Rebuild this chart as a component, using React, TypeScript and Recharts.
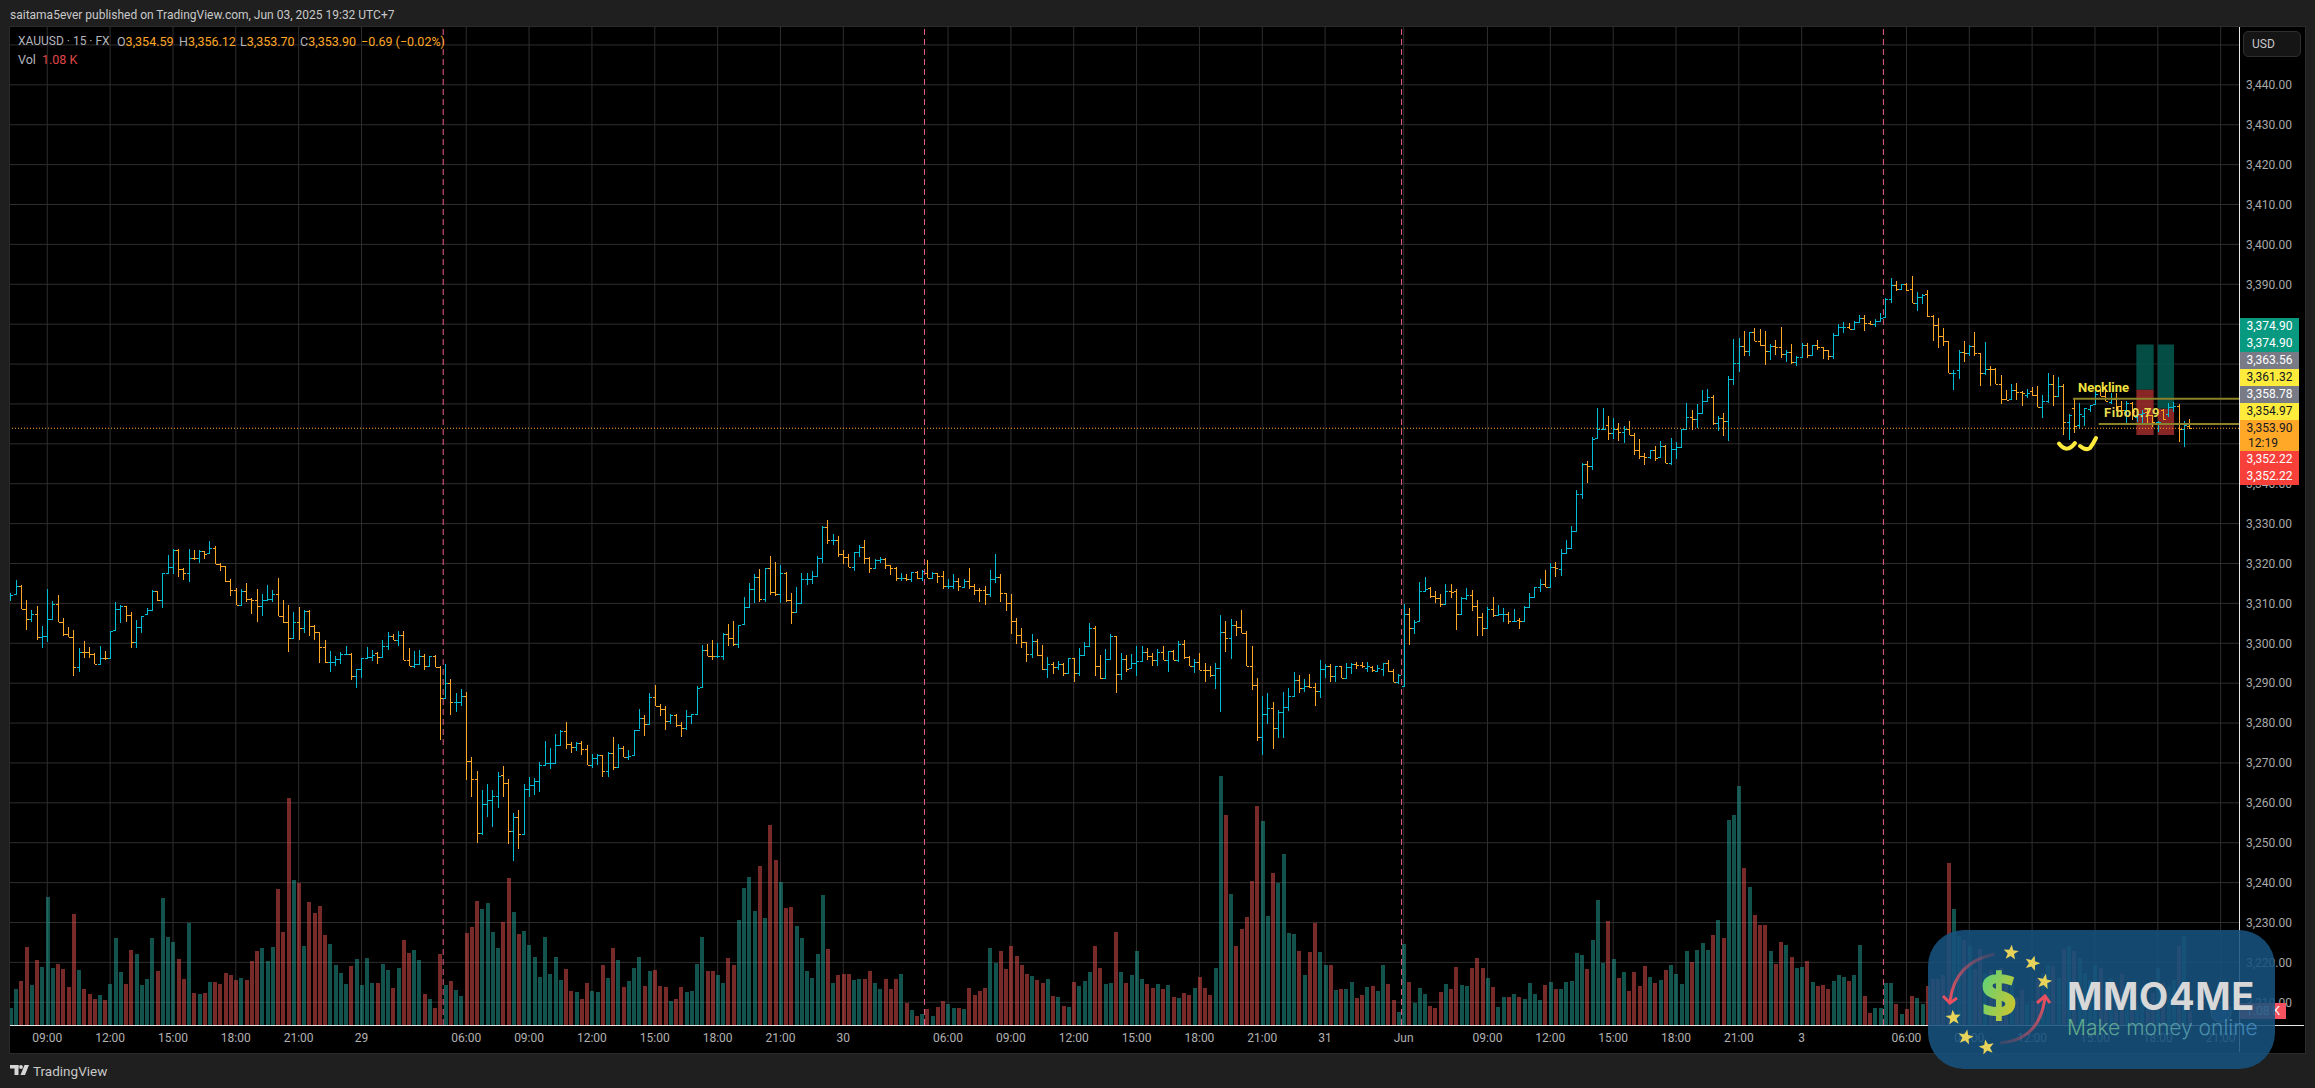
import { ComposedChart, Bar, XAxis, YAxis, CartesianGrid, ReferenceLine, ReferenceArea } from 'recharts';

const FONT = 'Roboto, "Liberation Sans", sans-serif';
const UP = '#00bcd4';
const DOWN = '#ffa726';

// one line per 10 bars
const opens = [
  3311.25,3312.25,3314.25,3308.5,3306.2,3307.25,3301.5,3301.75,3306.2,3309.75,
  3305.4,3302.4,3301.5,3294,3297.9,3297.75,3297.25,3294.9,3296.25,3296.25,
  3303.25,3308.5,3309.25,3307.1,3300.2,3304.2,3307.4,3308.3,3313.2,3310.75,
  3317.5,3319,3323.5,3318.5,3317.5,3321.5,3321.4,3323.25,3322.75,3324,
  3319.75,3319.3,3315.7,3313.25,3309.7,3313,3311.2,3310.9,3309.25,3310.8,
  3311.2,3312.25,3306.9,3305.4,3301.4,3305.25,3303.9,3308.2,3304.25,3302.75,
  3299,3295.2,3295.4,3296,3297.25,3297.25,3291.75,3293.5,3296.2,3296.6,
  3297.5,3296.6,3299.4,3301.7,3300.75,3302,3295.7,3294.25,3294.7,3296.8,
  3294.3,3296.7,3294,3286.4,3290,3285.25,3285.3,3286.75,3270.6,3266,
  3252.5,3259.75,3260.75,3261.6,3266.9,3265,3253,3256.5,3252.25,3263.5,
  3264.5,3265.5,3269.5,3270,3270,3274.4,3278,3274.75,3274,3275,
  3273.5,3269.5,3271.25,3272.1,3268,3272.5,3268.9,3273.75,3271.5,3271.9,
  3278.3,3281.25,3279.75,3286.5,3284.2,3283.5,3280.4,3282,3279.4,3278.75,
  3281.8,3282.25,3289,3298.3,3296.9,3296.7,3296.8,3302.25,3301.3,3299.75,
  3304.75,3309,3313.5,3316.5,3311,3318.9,3312.75,3312.3,3317.5,3310.75,
  3307.9,3310.2,3316,3316.2,3316.9,3321.5,3329.2,3326,3326,3322.3,
  3321.7,3319,3322.9,3324.2,3321.5,3318.9,3321,3321.2,3319.5,3318.9,
  3316.25,3316.4,3316.2,3317.75,3316.3,3317.5,3316.4,3317.6,3316.75,3314.4,
  3314.4,3315.6,3314.2,3315.6,3314.4,3313.3,3313.25,3312.3,3316,3316.5,
  3312.5,3310,3305.5,3302,3300.2,3297.25,3300.5,3297,3293.6,3294.75,
  3294,3294.8,3292.5,3296.25,3292.5,3297,3299.3,3303.8,3294.3,3291.2,
  3296,3301.9,3292.25,3296,3293.9,3295,3295.5,3297.75,3296.9,3295.8,
  3297.75,3295.8,3298,3295.7,3299.75,3296.5,3294.4,3295.25,3293.4,3293.25,
  3292,3293.9,3302.75,3301.25,3304.5,3304,3302.7,3294.4,3289.6,3276.5,
  3282.25,3283.75,3278.7,3282.8,3284,3286.9,3290.7,3288.75,3289.4,3289,
  3288,3293.5,3294.3,3291.75,3294.2,3291.2,3294,3294.75,3294.5,3293.75,
  3294,3293.1,3293.6,3295,3293,3290.4,3289.3,3307.4,3303.75,3305.7,
  3313,3313.8,3311.9,3311.25,3309.8,3313,3313,3307.4,3311.25,3312.2,
  3309.25,3306.5,3303.75,3308.5,3307,3307.25,3307.4,3305.5,3305.8,3305.5,
  3309.2,3311.7,3314,3314.75,3314,3319,3318.6,3322.7,3324,3328.2,
  3337.5,3345,3344.4,3351.5,3353.6,3354.6,3352.7,3353.8,3353,3353.8,
  3352.3,3348.5,3346.9,3346.75,3348.4,3346.75,3349.4,3345.25,3348.75,3349.2,
  3353.6,3356.75,3356.25,3357.7,3360.7,3361.75,3355.25,3356.6,3355.75,3366.25,
  3370.25,3374.6,3373.25,3378,3375.9,3374.75,3373.25,3374.6,3374.25,3372.4,
  3373,3370.4,3371.75,3374.75,3372.3,3374.7,3374.25,3373.6,3371.9,3377.3,
  3379.2,3379.4,3378.9,3380.6,3381.6,3380.25,3380,3380.7,3381.7,3386.25,
  3389.8,3388.8,3390,3388.75,3385.4,3386.75,3387.5,3382.1,3379.75,3377.1,
  3375.9,3367.7,3368.6,3373,3372.75,3374.6,3372.75,3367.75,3368.75,3368.75,
  3365,3361.25,3361.25,3363.6,3363,3362.3,3363.2,3362.3,3359.25,3360.7,
  3365,3362.1,3364.4,3355.5,3359,3354.6,3357,3358.75,3360,3363.6,
  3361.9,3360.4,3361.25,3359.6,3358.6,3360.25,3356.75,3357.5,3357.9,3357.3,
  3355.4,3358.6,3357.5,3359.25,3359.6,3353.6,3354.59,
];

const highs = [
  3312.5,3315.8,3314.5,3310.8,3308.3,3309.3,3304.3,3313.6,3310.6,3312,
  3306.3,3304,3303.3,3298.8,3300.6,3299,3297.5,3299.3,3298,3303.1,
  3310.25,3309.6,3309.25,3307.75,3305.8,3306.75,3308.8,3313.25,3313.2,3317.5,
  3322.25,3323.75,3323.75,3318.8,3323.6,3323.3,3323.5,3323.25,3325.6,3324.3,
  3320,3319.4,3316,3313.75,3313.6,3315,3311.25,3313.6,3312.25,3314.5,
  3313.3,3316.25,3310.8,3309.6,3307.75,3309,3308.3,3308.25,3304.5,3302.8,
  3300.75,3298,3296.9,3297.8,3299.3,3297.5,3293.6,3296.3,3299,3298.3,
  3297.7,3300.75,3302.8,3302.25,3303.1,3303.1,3298.8,3298,3298.3,3297.25,
  3296.8,3297.1,3294.4,3294.75,3291.1,3287.6,3288.6,3287.75,3271.5,3268,
  3263.3,3264.75,3263.25,3267.8,3269.3,3266,3257.5,3258.3,3264.6,3266.5,
  3266.25,3270.25,3275.6,3273.75,3277.25,3278.3,3280.25,3275.3,3275.3,3275.4,
  3274.6,3272.25,3272.3,3272.1,3272.75,3276.5,3274.75,3274.2,3273.3,3278.3,
  3283.6,3282.1,3287.5,3289.5,3284.75,3284.3,3282.25,3282.25,3280.25,3283.3,
  3282.25,3289.3,3299.6,3299.7,3300.8,3300,3302.5,3304.75,3305.5,3304.6,
  3311.5,3315,3317.3,3318.5,3318.9,3322,3320.3,3319.6,3317.75,3312.5,
  3314,3317.5,3317.5,3318.1,3321.9,3329.5,3331,3327.3,3326.8,3323.3,
  3322.3,3322.9,3324.6,3325.8,3321.7,3321.25,3321.7,3321.4,3319.6,3319.2,
  3317.5,3317.25,3317.8,3318,3318.3,3320.8,3317.75,3317.7,3318,3316,
  3317.3,3316.3,3316,3318.75,3314.75,3313.75,3314.3,3318.3,3322.5,3317.3,
  3312.5,3312.25,3306.3,3303.75,3300.4,3302.3,3301,3299.6,3296.5,3295.25,
  3295.6,3295,3296.25,3296.25,3298.75,3300.25,3305,3304.25,3297.1,3298.6,
  3302.25,3301.9,3297.5,3297.1,3297.25,3299.3,3299.3,3298.9,3297.5,3298.5,
  3299.3,3298,3298.3,3300.5,3300.8,3296.7,3296,3297.5,3295,3294.2,
  3295,3307,3305.6,3306,3305.5,3308.25,3303.1,3299.3,3291.25,3286.8,
  3287.5,3285.3,3283.2,3287.8,3288.9,3292.8,3292,3291,3292.3,3290,
  3295.8,3294.8,3294.8,3294.4,3294.2,3295,3295,3295.25,3295.2,3295.25,
  3294.2,3294.6,3295,3295.8,3293.6,3292.3,3309.8,3308.9,3305.8,3315.25,
  3316.5,3314,3313,3312.25,3314.8,3314.8,3313.6,3311.5,3313.8,3313.3,
  3310.8,3307.7,3309,3311.5,3309.6,3308.8,3307.9,3308.6,3306.25,3309.4,
  3312.5,3314,3316,3318.3,3320,3320.25,3323.6,3326,3329.5,3338.3,
  3345.25,3345.6,3351.7,3359,3359,3357.1,3356.5,3355.1,3354.4,3355.8,
  3352.75,3351.3,3347.75,3348.4,3349.4,3350.7,3349.7,3351.5,3350.4,3353.6,
  3360.25,3358.6,3360,3363.6,3363.75,3362.25,3356.9,3357.75,3367,3376.3,
  3376.5,3378.2,3378.1,3379,3378.75,3378.4,3375.1,3376.1,3379.25,3373.6,
  3375.1,3371.9,3375.4,3375.4,3374.75,3376.1,3374.4,3373.6,3377.75,3380,
  3380.5,3380.25,3380.8,3382.3,3382.2,3380.8,3381.25,3382.75,3386.5,3391.5,
  3390.9,3390.1,3390.4,3392.1,3388,3387.6,3388.6,3382.3,3381.5,3379,
  3375.9,3368.4,3373.6,3375.8,3374.7,3378.1,3372.75,3375.6,3369.6,3369,
  3367.3,3363.6,3365,3365.25,3363.2,3363.75,3364.25,3364.4,3362.3,3367.75,
  3367.3,3366.75,3365,3357.6,3361.5,3360.25,3359,3359.8,3364.8,3364,
  3363.2,3362.75,3362.75,3360.7,3360.8,3360.5,3358.2,3358.4,3359,3357.3,
  3355.6,3358.75,3360.25,3360.5,3360,3355.8,3356.12,
];

const lows = [
  3310.7,3312,3308.5,3303.3,3305.4,3300.7,3298.7,3300.4,3306.2,3305.25,
  3301.9,3301.5,3291.7,3292.7,3296.4,3296.2,3294.75,3294.7,3295.7,3296,
  3303.25,3305.2,3305.4,3298.7,3298.9,3302.7,3307.4,3308.3,3310.7,3308.9,
  3317.5,3317.4,3316.5,3315.8,3315.4,3320.8,3320.2,3321.2,3322.75,3319.75,
  3318.2,3315.25,3311.9,3309.7,3309.7,3310.4,3307.3,3305.4,3306.8,3310.8,
  3310.4,3306.9,3305,3297.7,3301.25,3300.8,3302.7,3301.7,3300.7,3295.1,
  3295,3292.7,3294.2,3294.75,3297,3290.8,3288.9,3291.4,3296.2,3295.6,
  3294.7,3296.6,3298.4,3300.7,3299.4,3295.7,3294.2,3293.9,3294.7,3293.2,
  3294.2,3294,3275.8,3286.4,3281.9,3282.7,3284.2,3265.6,3261.4,3250,
  3252,3256.4,3253.9,3258.7,3261.4,3249.75,3245.4,3248.3,3252.25,3261.4,
  3261.9,3262.7,3269.2,3268.5,3270,3274.2,3273.5,3272.5,3272.9,3272.1,
  3269.4,3268.75,3269.4,3266.4,3266.4,3268.2,3268.7,3271.5,3270.7,3271.9,
  3278.6,3276.8,3279.4,3284.2,3281.7,3278.3,3279.8,3279,3276.4,3278.3,
  3279.8,3282.1,3289,3296.7,3295.7,3296.2,3295.7,3299.2,3299.4,3298.75,
  3304.75,3309,3310,3310.4,3310.4,3312,3311.9,3310.2,3310.4,3304.8,
  3307.9,3309.8,3314.6,3314.8,3316.8,3320,3324.8,3324.6,3321.7,3319.8,
  3319,3318.2,3321.7,3319.8,3317.7,3318.5,3320.2,3318.7,3317.1,3315.6,
  3315.6,3315.7,3315.3,3316.1,3315.7,3316.25,3316.4,3315,3313.7,3313.5,
  3313.5,3313.2,3313.9,3313.7,3312,3310.4,3309.6,3311.7,3315,3310.4,
  3308.2,3302.3,3299.7,3298.7,3295.2,3296.4,3296.7,3293.3,3291.4,3292.3,
  3293.3,3291.7,3292.4,3290.3,3291.7,3296.8,3299.2,3291.7,3291,3291.2,
  3296,3287.5,3290.7,3292.7,3293.75,3291.8,3295.3,3295.8,3294.3,3294.2,
  3295.7,3292.7,3295.7,3295.25,3296,3294.2,3292.5,3293.2,3290.2,3291.5,
  3288.6,3282.7,3297.7,3296.1,3301.7,3302.5,3294.4,3288.2,3275.4,3271.9,
  3279.8,3273.6,3276.3,3276.2,3282.9,3286.8,3287.5,3287.7,3288.75,3284.2,
  3286.2,3291.4,3290.2,3290.4,3291.2,3291.2,3292.3,3293.6,3293.9,3292.9,
  3292.7,3292.75,3291.8,3292.8,3290.4,3289.8,3289.2,3299.6,3302.3,3305.7,
  3312.9,3311.25,3310.2,3309.2,3309.6,3311.4,3303.3,3307.2,3310.8,3308.2,
  3301.7,3301.7,3303.75,3306.5,3306.8,3305.4,3304.9,3305.4,3303.6,3305.4,
  3309.2,3311.5,3312.9,3314,3314,3316.7,3316.9,3322.7,3324,3328,
  3336.25,3340.25,3343.4,3351.5,3353.8,3350.9,3351.1,3350.6,3350.3,3352.2,
  3347.3,3346.3,3344.7,3346.1,3345.7,3346.5,3345.25,3344.6,3346.1,3349,
  3353.75,3353.4,3354,3357.5,3360.7,3354.75,3353.2,3352,3350.7,3364.8,
  3367.9,3372.1,3372.1,3375.9,3374.6,3369.8,3371.1,3372.3,3371.5,3370.4,
  3370.1,3369.4,3371.7,3371.5,3372.3,3373.6,3371.3,3370.9,3371.3,3377.1,
  3377.9,3378.75,3378.75,3380.5,3378.4,3379.8,3379.2,3380.5,3381.7,3385.4,
  3388.4,3388.6,3388.25,3385.25,3383.2,3385,3381.9,3375.7,3374,3374.6,
  3367.75,3363.4,3366.3,3370.4,3371.9,3371.9,3364.4,3367.3,3364.4,3365,
  3359.9,3360.9,3361.25,3361.1,3359.4,3361.5,3362.1,3359.25,3356.5,3360.25,
  3359.4,3361.9,3352.1,3350.9,3352.75,3353.75,3354.4,3357.9,3360,3361.9,
  3360.7,3360.1,3358.2,3357.3,3355.25,3356,3355.4,3355.25,3354.8,3354.25,
  3353,3356,3356.7,3357.9,3350.4,3349.2,3353.7,
];

const closes = [
  3312,3314.25,3308.5,3306.2,3307.25,3301.5,3301.75,3306.2,3309.75,3305.4,
  3302.4,3301.5,3294,3297.9,3297.75,3297.25,3294.9,3296.25,3296.2,3303,
  3308.5,3309.25,3307.1,3300.2,3304.2,3306.75,3308.3,3313.2,3310.75,3317.5,
  3319,3323.5,3318.5,3317.5,3321.5,3321.4,3323.25,3322.5,3324,3319.75,
  3319.3,3315.7,3313.25,3309.7,3313,3311.2,3310.9,3309.25,3310.8,3311.2,
  3312.25,3306.9,3305.4,3301.4,3305.25,3303.9,3308.2,3304.25,3302.75,3299,
  3295.2,3295.4,3296,3297.25,3297.3,3291.75,3293.5,3296.2,3296.6,3297.1,
  3296.6,3299.4,3301.7,3300.75,3302,3295.7,3294.25,3294.7,3296.8,3294.3,
  3296.7,3294,3286.4,3290,3285.25,3285.3,3286.75,3270.6,3266,3252.5,
  3259.75,3260.75,3261.6,3266.7,3265,3253,3256.5,3252.25,3263.5,3264.5,
  3265.5,3269.5,3270,3270.1,3274.4,3278,3274.75,3274,3275,3273.5,
  3269.5,3271.25,3272.1,3268,3272.5,3268.9,3273.75,3271.5,3271.7,3278.3,
  3281.25,3279.75,3286.5,3284.2,3283.5,3280.4,3282,3279.4,3278.75,3281.8,
  3282.25,3288.75,3298.3,3296.9,3296.7,3296.8,3302.25,3301.3,3299.75,3304.6,
  3309,3313.5,3316.5,3311,3318.9,3312.75,3312.3,3317.5,3310.75,3307.9,
  3310.2,3316,3316.2,3316.9,3321.5,3329.2,3326,3326,3322.3,3321.7,
  3319,3322.9,3324.2,3321.5,3318.9,3321,3321.2,3319.5,3318.9,3316.25,
  3316.4,3316.2,3317.75,3316.3,3318.2,3316.4,3317.6,3316.75,3314.4,3314.4,
  3315.6,3314.3,3315.6,3314.4,3313.3,3313.25,3312.3,3316,3316.5,3312.5,
  3310,3305.5,3302,3300.2,3297.25,3300.5,3297,3293.6,3294.75,3294,
  3294.8,3292.5,3296.25,3292.5,3297,3299.3,3303.8,3294.3,3291.2,3296,
  3301.9,3292.25,3296,3293.6,3295,3295.5,3297.75,3296.9,3295.8,3297.75,
  3295.8,3298,3295.7,3299.75,3296.5,3294.4,3295.25,3293.4,3293.25,3292,
  3293.9,3302.75,3301.25,3304.5,3304,3302.7,3294.4,3289.6,3276.5,3282.25,
  3283.75,3278.7,3282.8,3284,3286.9,3290.7,3288.75,3289.2,3289,3288,
  3293.5,3294.3,3291.75,3294.2,3291.2,3294,3294.75,3294.5,3294.3,3294.2,
  3293.3,3293.7,3295,3293,3290.4,3292,3307.4,3303.75,3305.4,3313,
  3313.5,3311.9,3311.25,3309.8,3313,3312.9,3307.4,3311.25,3312.2,3309.25,
  3306.5,3303.75,3308.5,3307,3307.25,3307.4,3305.5,3305.7,3305.5,3309.2,
  3311.7,3314,3314.75,3314,3319,3318.8,3322.7,3324,3328.2,3337.5,
  3345,3344.4,3351.3,3353.6,3353.8,3352.7,3353.8,3353,3353.8,3352.3,
  3348.5,3346.9,3346.75,3348.4,3346.5,3349.4,3345.25,3348.75,3349.2,3353.6,
  3356.75,3356.25,3357.7,3360.7,3361.75,3355.25,3356.6,3355.75,3366.25,3370.25,
  3374.6,3373.25,3378,3375.9,3374.75,3373.25,3374.6,3374.25,3372.4,3373,
  3370.4,3371.75,3374.75,3372.3,3374.7,3374.25,3373.6,3371.9,3377.3,3379.2,
  3379.4,3378.9,3380.6,3381.6,3380.25,3380,3380.7,3381.5,3386.25,3389.8,
  3388.8,3390,3388.6,3385.4,3386.75,3387.3,3382.1,3379.75,3377.1,3375.9,
  3367.75,3367.75,3373,3372.75,3374.6,3372.75,3367.75,3368.75,3368.7,3365,
  3361.25,3361.1,3363.6,3363,3362.75,3362.75,3362.3,3359.25,3360.7,3365,
  3362.1,3364.4,3355.5,3357.3,3354.4,3357.5,3359,3359.8,3362.6,3361.9,
  3360.7,3361.25,3359.6,3358.4,3360.25,3358.2,3357.5,3357.75,3357.3,3355.4,
  3355.5,3356.2,3359.25,3359.6,3353.6,3354.8,3353.9,
];

const volumes = [
  1275,2725,3325,5875,3025,4900,4375,9625,4300,4600,
  4225,2875,8350,4150,2725,2350,1975,2275,1900,3100,
  6550,4000,3100,5650,5350,3025,3475,6550,4075,9550,
  6625,6250,4975,3475,7675,2425,2350,2425,3250,3250,
  3100,3925,3775,3400,3550,3400,4825,5575,5800,4825,
  5875,10225,7000,17050,10900,10675,5950,9250,8425,8950,
  6775,6100,4525,3925,3100,4450,4975,3025,5050,3175,
  3175,4600,4150,2800,4300,6400,5425,5650,4900,2350,
  1975,1300,5350,3025,3325,2650,2200,6925,7375,9325,
  8725,9175,7000,5800,7750,11050,8500,6850,7075,6025,
  5125,3625,6625,3850,5125,3400,4225,2575,2500,1975,
  3175,2575,2500,4525,3550,5800,4900,2875,3325,4300,
  5125,2950,4075,4150,2950,2875,1825,1975,2875,2500,
  2575,4600,6625,4075,4075,3775,3175,5050,4525,7900,
  10300,11125,8575,11950,8050,15025,12400,10750,8800,8875,
  7450,6550,4075,3550,5350,9775,5725,3175,3775,3850,
  3850,3400,3475,3475,4075,3175,2725,3475,2725,3475,
  3850,1675,1150,700,850,1225,700,1375,1825,1600,
  1300,1300,1225,2800,2275,2575,2800,5800,4675,5575,
  4225,5950,5200,4525,3850,3700,3400,3175,3475,2200,
  2125,1450,1375,3250,2950,3325,4000,5950,4300,3100,
  3175,7000,4000,3175,3775,5575,3475,3100,2800,3100,
  2725,3025,2125,2050,2425,2275,2800,3625,2800,2275,
  4300,18700,15775,9850,5950,7225,8125,10825,16450,15325,
  8200,11425,10675,12850,6925,6850,5575,3775,5500,7675,
  5500,4525,4525,2650,2725,2725,3250,2050,2275,2875,
  2950,2575,4525,3100,1900,1000,6100,3250,1675,2800,
  2350,1450,1300,2500,3100,2725,4375,3025,2950,4300,
  5050,4300,3550,2875,1375,2125,2125,2350,2125,1975,
  3175,2350,1900,3025,3250,2725,2725,3250,3325,5425,
  5275,4225,6400,9400,4675,7825,4975,3550,4000,2575,
  4000,2950,4450,3625,3175,3400,4150,4525,3850,3100,
  5575,4750,5650,6175,5650,6775,7900,6550,15400,15775,
  17950,11800,10375,8275,7525,7525,5575,4600,6250,6025,
  5125,4300,4375,4825,3250,2950,3025,2725,3325,3775,
  3625,3325,3775,6025,2200,925,1300,1300,3175,3175,
  1600,850,1225,2200,2050,1600,2950,3475,3475,3775,
  12175,8700,6650,6350,5950,4225,5725,3900,4100,3575,
  4275,3400,3275,2100,2600,1600,1775,3525,3900,4525,
  4450,3525,5700,5900,5525,5025,3900,3350,4525,4275,
  2775,3525,2775,3850,2150,2850,1600,2650,1400,2400,
  4275,3150,2900,3400,5900,6700,1080,
];

const timeTicks = [7,19,31,43,55,67,87,99,111,123,135,147,159,179,191,203,215,227,239,251,266,282,294,306,318,330,342,362,374,386,398,410,422];
const timeLabels = ['09:00','12:00','15:00','18:00','21:00','29','06:00','09:00','12:00','15:00','18:00','21:00','30','06:00','09:00','12:00','15:00','18:00','21:00','31','Jun','09:00','12:00','15:00','18:00','21:00','3','06:00','09:00','12:00','15:00','18:00','21:00'];
const priceTicks = [3210,3220,3230,3240,3250,3260,3270,3280,3290,3300,3310,3320,3330,3340,3350,3360,3370,3380,3390,3400,3410,3420,3430,3440,3450];
// these scale labels sit fully under the tags and the USD box
const coveredTicks = [3350, 3360, 3370, 3450];
const sessionLines = [82.6, 174.5, 265.6, 357.6];

const priceTags = [
  { text: '3,374.90', bg: '#089981', color: '#fff' },
  { text: '3,374.90', bg: '#089981', color: '#fff' },
  { text: '3,363.56', bg: '#787b86', color: '#fff' },
  { text: '3,361.32', bg: '#ffeb3b', color: '#131722' },
  { text: '3,358.78', bg: '#787b86', color: '#fff' },
  { text: '3,354.97', bg: '#ffeb3b', color: '#131722' },
];
const stopTags = ['3,352.22', '3,352.22'];

const legendValues = [
  { label: 'O', value: '3,354.59', x: 117 },
  { label: 'H', value: '3,356.12', x: 179 },
  { label: 'L', value: '3,353.70', x: 240 },
  { label: 'C', value: '3,353.90', x: 300 },
];

const data = opens.map((open, i) => ({
  idx: i,
  open,
  high: highs[i],
  low: lows[i],
  close: closes[i],
  volume: volumes[i],
}));

function OhlcShape(props: any) {
  const { x, y, width, height, payload } = props;
  const top = Math.min(y, y + height);
  const span = Math.abs(height);
  const range = payload.high - payload.low || 1;
  const cx = Math.round(x + width / 2) + 0.5;
  const yOpen = Math.round(top + ((payload.high - payload.open) / range) * span) + 0.5;
  const yClose = Math.round(top + ((payload.high - payload.close) / range) * span) + 0.5;
  const color = payload.close >= payload.open ? UP : DOWN;
  return (
    <g stroke={color} strokeWidth={1} shapeRendering="crispEdges">
      <line x1={cx} x2={cx} y1={top} y2={top + span} />
      <line x1={cx - 2.5} x2={cx} y1={yOpen} y2={yOpen} />
      <line x1={cx} x2={cx + 2.5} y1={yClose} y2={yClose} />
    </g>
  );
}

function VolumeShape(props: any) {
  const { x, y, width, height, payload } = props;
  const fill = payload.close >= payload.open ? '#26a69a' : '#ef5350';
  return <rect x={Math.round(x)} y={y} width={width} height={height} fill={fill} fillOpacity={0.5} shapeRendering="crispEdges" />;
}

function starPoints(cx: number, cy: number, r: number, rot: number) {
  const pts: string[] = [];
  for (let k = 0; k < 10; k++) {
    const rad = k % 2 === 0 ? r : r * 0.42;
    const a = rot + (k * Math.PI) / 5 - Math.PI / 2;
    pts.push(`${cx + rad * Math.cos(a)},${cy + rad * Math.sin(a)}`);
  }
  return pts.join(' ');
}

const label = (extra: any) => ({ position: 'absolute', whiteSpace: 'nowrap', fontFamily: FONT, ...extra });

export default function App() {
  return (
    <div style={{ position: 'absolute', left: 0, top: 0, width: 2315, height: 1088, background: '#1f1f1f', overflow: 'hidden' }}>
      <div style={{ position: 'absolute', left: 9, top: 26, width: 2295, height: 1026, background: '#000', border: '1px solid #2b2b2b' }} />

      <div style={{ position: 'absolute', left: 0, top: 0 }}>
        <ComposedChart
          width={2315}
          height={1088}
          data={data}
          margin={{ top: 27, right: 11, bottom: 36, left: 10 }}
        >
          <CartesianGrid stroke="#2e2e2e" xAxisId="t" yAxisId="price" syncWithTicks />
          <XAxis
            xAxisId="t"
            dataKey="idx"
            type="number"
            domain={[-0.115, 425.5]}
            allowDataOverflow
            ticks={timeTicks}
            interval={0}
            height={27}
            tickFormatter={(v: number) => timeLabels[timeTicks.indexOf(v)]}
            tick={{ fill: '#b2b2b2', fontSize: 12, fontFamily: FONT }}
            tickLine={false}
            axisLine={false}
            tickMargin={2}
          />
          <XAxis xAxisId="vol" dataKey="idx" type="number" domain={[-0.115, 425.5]} allowDataOverflow hide height={0} />
          <XAxis xAxisId="px" dataKey="idx" type="number" domain={[-0.115, 425.5]} allowDataOverflow hide height={0} />
          <YAxis
            yAxisId="price"
            orientation="right"
            width={65}
            domain={[3204.3, 3454.5]}
            allowDataOverflow
            ticks={priceTicks}
            interval={0}
            tickFormatter={(v: number) => (coveredTicks.includes(v) ? '' : v.toLocaleString('en-US', { minimumFractionDigits: 2 }))}
            tick={{ fill: '#a8a8a8', fontSize: 12, fontFamily: FONT }}
            tickLine={false}
            axisLine={false}
            tickMargin={1}
          />
          <YAxis yAxisId="vol" hide domain={[0, 74850]} allowDataOverflow />

          <Bar xAxisId="vol" yAxisId="vol" dataKey="volume" barSize={4} shape={<VolumeShape />} isAnimationActive={false} />

          {sessionLines.map((s) => (
            <ReferenceLine key={s} xAxisId="t" yAxisId="price" x={s} stroke="#ec5f88" strokeDasharray="6 4" />
          ))}
          <ReferenceLine xAxisId="t" yAxisId="price" y={3353.9} stroke={DOWN} strokeDasharray="1 2" />

          <ReferenceArea xAxisId="t" yAxisId="price" x1={405.9} x2={409.2} y1={3363.56} y2={3374.9} fill="#045a50" fillOpacity={0.85} stroke="none" />
          <ReferenceArea xAxisId="t" yAxisId="price" x1={405.9} x2={409.2} y1={3352.22} y2={3363.56} fill="#a02c2c" fillOpacity={0.85} stroke="none" />
          <ReferenceArea xAxisId="t" yAxisId="price" x1={410} x2={413.1} y1={3358.78} y2={3374.9} fill="#045a50" fillOpacity={0.85} stroke="none" />
          <ReferenceArea xAxisId="t" yAxisId="price" x1={410} x2={413.1} y1={3352.22} y2={3358.78} fill="#a02c2c" fillOpacity={0.85} stroke="none" />

          <Bar
            xAxisId="px"
            yAxisId="price"
            dataKey={(d: any) => [d.low, d.high]}
            barSize={5}
            shape={<OhlcShape />}
            isAnimationActive={false}
          />

          <ReferenceLine xAxisId="t" yAxisId="price" segment={[{ x: 393.8, y: 3361.32 }, { x: 425.5, y: 3361.32 }]} stroke="#8a8128" strokeWidth={2} />
          <ReferenceLine xAxisId="t" yAxisId="price" segment={[{ x: 398.7, y: 3354.97 }, { x: 425.5, y: 3354.97 }]} stroke="#8a8128" strokeWidth={2} />
        </ComposedChart>
      </div>

      {/* axis edges */}
      <div style={{ position: 'absolute', left: 2239, top: 27, width: 1, height: 1025, background: '#e8e8e8' }} />
      <div style={{ position: 'absolute', left: 10, top: 1025, width: 2294, height: 1, background: '#e8e8e8' }} />

      {/* header and legend */}
      <div style={label({ left: 10, top: 8, fontSize: 12, color: '#c9c9c9' })}>saitama5ever published on TradingView.com, Jun 03, 2025 19:32 UTC+7</div>
      <div style={label({ left: 18, top: 34, fontSize: 12, lineHeight: '15px', color: '#b2b5be' })}>XAUUSD · 15 · FX</div>
      {legendValues.map((l) => (
        <div key={l.label} style={label({ left: l.x, top: 34, fontSize: 12.5, color: '#ffa726' })}>
          <span style={{ color: '#b2b5be' }}>{l.label}</span>{l.value}
        </div>
      ))}
      <div style={label({ left: 361, top: 34, fontSize: 12.5, color: '#ffa726' })}>−0.69 (−0.02%)</div>
      <div style={label({ left: 18, top: 52, fontSize: 12.5, color: '#b2b5be' })}>Vol</div>
      <div style={label({ left: 42, top: 52, fontSize: 12.5, color: '#e04848' })}>1.08 K</div>

      {/* drawing labels */}
      <div style={label({ left: 2078, top: 380, fontSize: 13, fontWeight: 700, color: '#f3e23f' })}>Neckline</div>
      <div style={label({ left: 2104, top: 405, fontSize: 13, fontWeight: 700, color: '#e8dc50', letterSpacing: 0.6 })}>Fibo0.79</div>

      {/* price scale tags */}
      <div style={label({ left: 2243, top: 31, width: 58, height: 26, boxSizing: 'border-box', background: '#151515', border: '1px solid #2f2f2f', borderRadius: 5, color: '#c8c8c8', fontSize: 12, lineHeight: '24px', paddingLeft: 8 })}>USD</div>
      {priceTags.map((t, i) => (
        <div key={i} style={label({ left: 2240, top: 318.3 + i * 17, width: 59, height: 17, background: t.bg, color: t.color, fontSize: 12, lineHeight: '17px', textAlign: 'center' })}>{t.text}</div>
      ))}
      <div style={label({ left: 2240, top: 420, width: 59, height: 31, background: '#ffa726', color: '#131722', fontSize: 12, lineHeight: '15px', paddingTop: 1, boxSizing: 'border-box', textAlign: 'center' })}>
        3,353.90
        <div style={{ textAlign: 'left', paddingLeft: 8 }}>12:19</div>
      </div>
      {stopTags.map((t, i) => (
        <div key={i} style={label({ left: 2240, top: 451 + i * 17, width: 59, height: 17, background: '#f7403a', color: '#fff', fontSize: 12, lineHeight: '17px', textAlign: 'center' })}>{t}</div>
      ))}
      <div style={label({ left: 2240, top: 1003, width: 46, height: 16, background: '#f7525f', color: '#fff', fontSize: 12, lineHeight: '16px', textAlign: 'center' })}>1.08 K</div>

      {/* overlay art */}
      <svg width={2315} height={1088} style={{ position: 'absolute', left: 0, top: 0, pointerEvents: 'none' }}>
        <defs>
          <linearGradient id="dollar" x1="0" y1="0" x2="1" y2="1">
            <stop offset="0" stopColor="#43d68c" />
            <stop offset="1" stopColor="#e8c21a" />
          </linearGradient>
          <linearGradient id="tagline" x1="0" y1="0" x2="1" y2="0">
            <stop offset="0" stopColor="#7fcf8f" />
            <stop offset="1" stopColor="#4a94cf" />
          </linearGradient>
          <linearGradient id="arrowA" gradientUnits="userSpaceOnUse" x1="1995" y1="954" x2="1950" y2="1002">
            <stop offset="0" stopColor="#e8505f" stopOpacity={0.15} />
            <stop offset="1" stopColor="#e8505f" />
          </linearGradient>
          <linearGradient id="arrowB" gradientUnits="userSpaceOnUse" x1="2000" y1="1043" x2="2045" y2="997">
            <stop offset="0" stopColor="#e8505f" stopOpacity={0.15} />
            <stop offset="1" stopColor="#e8505f" />
          </linearGradient>
        </defs>

        {/* hand drawn marks under the double bottom */}
        <path d="M2059 443.5 Q2067 454 2075 443" fill="none" stroke="#ffeb3b" strokeWidth={4} strokeLinecap="round" />
        <path d="M2080 446 Q2086 451 2090 448 Q2093 444 2096 438" fill="none" stroke="#ffeb3b" strokeWidth={4} strokeLinecap="round" />

        {/* TradingView mark */}
        <g fill="#d6d6d6">
          <rect x={10} y={1065} width={8.5} height={3.5} />
          <rect x={14.5} y={1065} width={4} height={10} />
          <circle cx={21} cy={1067} r={1.9} />
          <polygon points="24.5,1065 29,1065 25,1075 20.5,1075" />
        </g>
        <text x={33} y={1076} fontFamily={FONT} fontSize={13.5} fill="#c9c9c9">TradingView</text>

        {/* session flag on the price scale */}
        <circle cx={2221} cy={1012} r={10} fill="#2a4a78" stroke="#6b6b6b" strokeWidth={1.5} />

        {/* site badge */}
        <rect x={1928} y={930} width={347} height={139} rx={36} fill="#17527e" fillOpacity={0.88} />
        <path d="M1995 954 Q1955 962 1950 1001" fill="none" stroke="url(#arrowA)" strokeWidth={3} />
        <path d="M1943 996 L1950 1003 L1957 998" fill="none" stroke="#e8505f" strokeWidth={3} />
        <path d="M2000 1043 Q2040 1040 2045 997" fill="none" stroke="url(#arrowB)" strokeWidth={3} />
        <path d="M2037 1003 L2045 996 L2050 1003" fill="none" stroke="#e8505f" strokeWidth={3} />
        <text x={1999} y={1017} textAnchor="middle" fontFamily='"Open Sans", sans-serif' fontWeight={800} fontSize={62} fill="url(#dollar)">$</text>
        {[[2011, 952.7, 0.1], [2032.3, 963.3, 0.3], [2044.3, 981.7, 0.2], [1953.3, 1017.7, -0.1], [1965.7, 1037.3, 0.2], [1986.7, 1047.3, -0.2]].map(([cx, cy, r]) => (
          <polygon key={cx} points={starPoints(cx, cy, 8, r)} fill="#e8d35a" />
        ))}
        <text x={2067} y={1010} fontFamily="Inter, sans-serif" fontWeight={700} fontSize={38} letterSpacing={0.6} fill="#d8d8d8">MMO4ME</text>
        <text x={2067} y={1035} fontFamily="Inter, sans-serif" fontWeight={300} fontSize={21} fill="url(#tagline)" fillOpacity={0.75}>Make money online</text>
      </svg>
    </div>
  );
}
